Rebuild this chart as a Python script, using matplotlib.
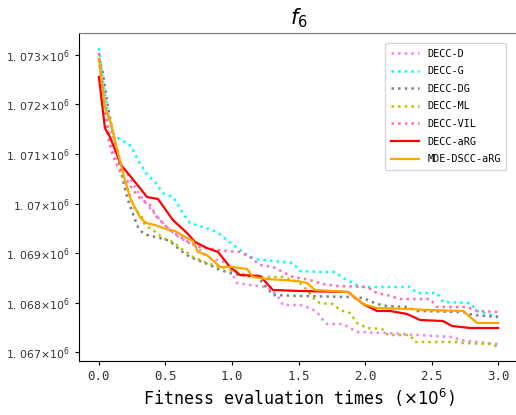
import matplotlib
matplotlib.use('Agg')
import matplotlib.pyplot as plt

# x in units of 1e6 fitness evaluations
x_d = [0, 0.030, 0.068, 0.105, 0.143, 0.188, 0.241, 0.293, 0.353, 0.406, 0.459, 0.534, 0.609, 0.662,
       0.737, 0.812, 0.887, 0.962, 1.038, 1.135, 1.263, 1.338, 1.383, 1.511, 1.586, 1.639, 1.684, 1.714,
       1.835, 1.887, 1.940, 2.165, 2.511, 2.662, 2.714, 2.917, 3.0]
y_d = [1073040, 1072293, 1071586, 1071121, 1070879, 1070717, 1070475, 1070233, 1070010, 1069829,
       1069667, 1069465, 1069303, 1069223, 1069122, 1068920, 1068859, 1068798, 1068394, 1068354,
       1068314, 1068152, 1067950, 1067950, 1067889, 1067809, 1067647, 1067566, 1067566, 1067485,
       1067405, 1067384, 1067324, 1067304, 1067243, 1067182, 1067162]

x_g = [0, 0.030, 0.068, 0.105, 0.143, 0.195, 0.241, 0.293, 0.353, 0.421, 0.481, 0.556, 0.632, 0.684,
       0.782, 0.887, 0.962, 1.060, 1.135, 1.211, 1.308, 1.459, 1.511, 1.662, 1.774, 1.835, 1.962, 2.338,
       2.391, 2.541, 2.586, 2.789, 2.842, 3.0]
y_g = [1073141, 1072495, 1071828, 1071424, 1071323, 1071243, 1071162, 1070879, 1070616, 1070435,
       1070212, 1070132, 1069808, 1069606, 1069526, 1069425, 1069263, 1069061, 1068920, 1068859,
       1068839, 1068798, 1068637, 1068617, 1068617, 1068495, 1068314, 1068314, 1068192, 1068192,
       1068011, 1067990, 1067829, 1067708]

x_dg = [0, 0.030, 0.068, 0.105, 0.143, 0.180, 0.218, 0.256, 0.293, 0.323, 0.361, 0.459, 0.534, 0.609,
        0.684, 0.759, 0.835, 0.910, 0.985, 1.060, 1.188, 1.308, 1.511, 1.887, 1.985, 2.090, 2.165, 2.316,
        2.391, 2.737, 2.812, 3.0]
y_dg = [1072939, 1072636, 1071950, 1071424, 1070940, 1070475, 1070071, 1069788, 1069526, 1069425,
        1069364, 1069303, 1069243, 1069061, 1068920, 1068839, 1068758, 1068657, 1068596, 1068556,
        1068536, 1068152, 1068132, 1068112, 1068091, 1067970, 1067930, 1067910, 1067829, 1067809,
        1067748, 1067708]

x_ml = [0, 0.038, 0.090, 0.143, 0.195, 0.241, 0.278, 0.308, 0.346, 0.406, 0.481, 0.556, 0.632, 0.707,
        0.812, 0.910, 1.008, 1.135, 1.383, 1.511, 1.564, 1.624, 1.662, 1.759, 1.812, 1.887, 1.940, 2.015,
        2.128, 2.173, 2.338, 2.376, 2.692, 2.737, 2.940, 3.0]
y_ml = [1072919, 1071990, 1071586, 1071020, 1070475, 1070071, 1069829, 1069808, 1069566, 1069465,
        1069303, 1069223, 1069061, 1068920, 1068798, 1068718, 1068657, 1068516, 1068516, 1068394,
        1068253, 1068051, 1067990, 1067970, 1067849, 1067788, 1067586, 1067485, 1067465, 1067344,
        1067344, 1067203, 1067203, 1067182, 1067162, 1067102]

x_vil = [0, 0.023, 0.053, 0.075, 0.105, 0.135, 0.173, 0.211, 0.256, 0.308, 0.361, 0.383, 0.436, 0.481,
         0.534, 0.609, 0.684, 0.759, 0.887, 0.962, 1.060, 1.135, 1.211, 1.308, 1.383, 1.459, 1.586, 1.684,
         1.789, 2.015, 2.090, 2.165, 2.263, 2.489, 2.541, 2.767, 2.842, 3.0]
y_vil = [1073040, 1072394, 1071687, 1071243, 1070980, 1070778, 1070576, 1070475, 1070273, 1070111,
         1070010, 1069970, 1069728, 1069606, 1069465, 1069324, 1069202, 1069122, 1069061, 1069041,
         1069021, 1068920, 1068758, 1068718, 1068617, 1068516, 1068455, 1068374, 1068334, 1068314,
         1068192, 1068152, 1068071, 1068071, 1067910, 1067910, 1067829, 1067809]

x_arg = [0, 0.045, 0.083, 0.143, 0.165, 0.241, 0.308, 0.361, 0.444, 0.556, 0.662, 0.722, 0.812, 0.895,
         0.985, 1.060, 1.211, 1.308, 1.511, 1.872, 1.985, 2.090, 2.188, 2.316, 2.414, 2.586, 2.654, 2.789, 3.0]
y_arg = [1072556, 1071525, 1071344, 1070940, 1070778, 1070536, 1070313, 1070132, 1070091, 1069667,
         1069404, 1069223, 1069101, 1069021, 1068718, 1068556, 1068536, 1068253, 1068233, 1068213,
         1067970, 1067829, 1067829, 1067768, 1067647, 1067627, 1067526, 1067485, 1067485]

x_mde = [0, 0.045, 0.090, 0.143, 0.195, 0.241, 0.308, 0.353, 0.421, 0.504, 0.571, 0.662, 0.707, 0.744,
         0.812, 0.910, 1.008, 1.113, 1.158, 1.263, 1.383, 1.489, 1.564, 1.624, 1.872, 1.985, 2.090, 2.338,
         2.466, 2.737, 2.842, 3.0]
y_mde = [1072919, 1071950, 1071626, 1071020, 1070475, 1070071, 1069728, 1069606, 1069566, 1069485,
         1069445, 1069303, 1069243, 1069021, 1068960, 1068718, 1068718, 1068677, 1068516, 1068475,
         1068455, 1068435, 1068394, 1068253, 1068213, 1067970, 1067889, 1067869, 1067849, 1067829,
         1067586, 1067586]

yticks = [1067000, 1068000, 1069000, 1070000, 1071000, 1072000, 1073000]
ytick_labels = ['1. 067', '1. 068', '1. 069', '1. 07', '1. 071', '1. 072', '1. 073']
xticks = [0.0, 0.5, 1.0, 1.5, 2.0, 2.5, 3.0]

mono = 'DejaVu Sans Mono'

fig = plt.figure(figsize=(5.16, 4.15), dpi=100)
ax = fig.add_axes([0.153, 0.130, 0.851, 0.7905])

ax.plot(x_d, y_d, ':', color='violet', lw=1.8, label='DECC-D')
ax.plot(x_g, y_g, ':', color='cyan', lw=1.8, label='DECC-G')
ax.plot(x_dg, y_dg, ':', color='grey', lw=1.8, label='DECC-DG')
ax.plot(x_ml, y_ml, ':', color='y', lw=1.8, label='DECC-ML')
ax.plot(x_vil, y_vil, ':', color='hotpink', lw=1.8, label='DECC-VIL')
ax.plot(x_arg, y_arg, '-', color='red', lw=1.6, label='DECC-aRG')
ax.plot(x_mde, y_mde, '-', color='orange', lw=1.6, label='MDE-DSCC-aRG')

ax.set_xlim(-0.15, 3.15)
ax.set_ylim(1066818, 1073444)
ax.set_xticks(xticks)
ax.set_xticklabels(['%.1f' % t for t in xticks], fontsize=9, family=mono, color='#333333')
ax.set_yticks(yticks)
ax.set_yticklabels([s + r'$\times10^{6}$' for s in ytick_labels], fontsize=7.8,
                   family='DejaVu Sans', color='#333333')
ax.tick_params(length=3)

ax.set_xlabel(r'Fitness evaluation times ($\times10^6$)', fontsize=12, family=mono, labelpad=3)
ax.set_title(r'$f_6$', fontsize=15, pad=6)

ax.spines['top'].set_color('#777777')
ax.spines['right'].set_visible(False)
ax.legend(loc='upper right', prop={'family': mono, 'size': 7.3}, handlelength=2.8,
          labelspacing=0.75, borderpad=0.55, bbox_to_anchor=(0.985, 0.985))

fig.savefig('out.png', dpi=100)
